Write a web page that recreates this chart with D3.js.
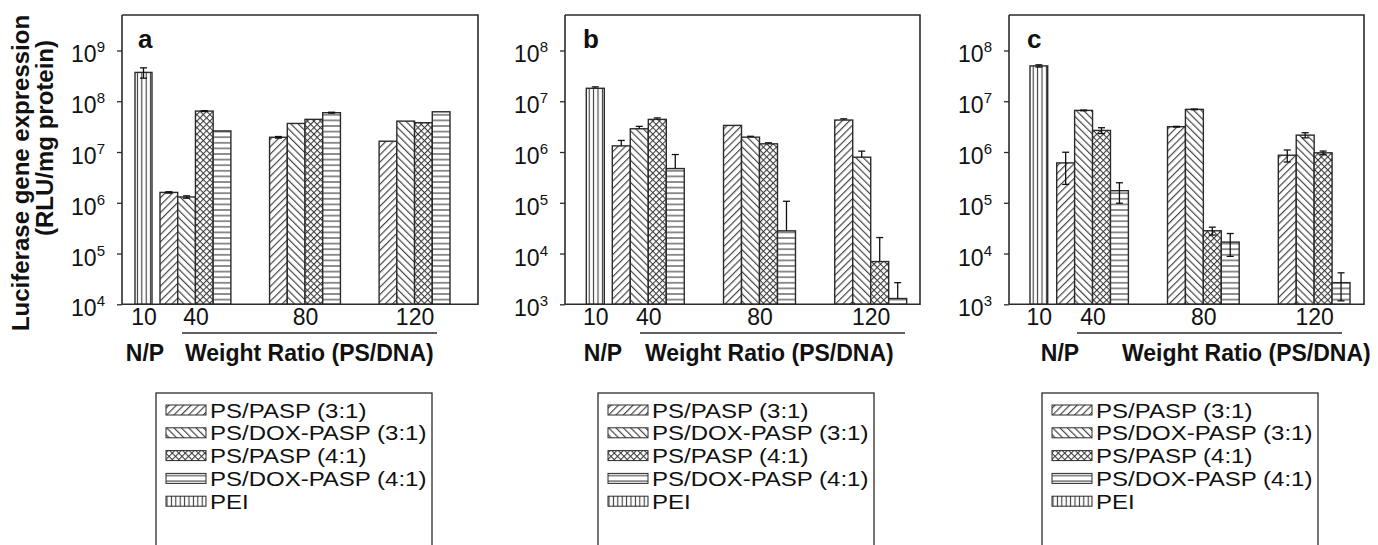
<!DOCTYPE html>
<html>
<head>
<meta charset="utf-8">
<script src="https://cdn.jsdelivr.net/npm/d3@7"></script>
<style>
  body { margin: 0; background: #fff; }
  svg { display: block; }
  text { font-family: "Liberation Sans", Arial, sans-serif; fill: #111; }
</style>
</head>
<body>
<svg id="chart" width="1378" height="545"></svg>
<script>
"use strict";

/* Luciferase expression, three panels (a, b, c) */

// Categories
var series_names = ["PS/PASP (3:1)", "PS/DOX-PASP (3:1)", "PS/PASP (4:1)", "PS/DOX-PASP (4:1)"];
var ratio_labels = ["40", "80", "120"];
var np_label = "10";
var legend_labels = ["PS/PASP (3:1)", "PS/DOX-PASP (3:1)", "PS/PASP (4:1)", "PS/DOX-PASP (4:1)", "PEI"];

// Tick exponents
var a_tick_exps = [4, 5, 6, 7, 8, 9];
var bc_tick_exps = [3, 4, 5, 6, 7, 8];

// Panel a: one array per weight ratio, columns follow series_names
var a_pei = 3.7e8, a_pei_err = 0.85e8;
var a_ratio40 = [1.6e6, 1.3e6, 6.4e7, 2.6e7];
var a_ratio80 = [1.95e7, 3.65e7, 4.4e7, 5.95e7];
var a_ratio120 = [1.63e7, 4.06e7, 3.78e7, 6.2e7];
var a_err40 = [0.05e6, 0.07e6, 0.12e7, 0];
var a_err80 = [0.07e7, 0, 0, 0.12e7];
var a_err120 = [0, 0, 0, 0];

// Panel b
var b_pei = 1.8e7, b_pei_err = 0.12e7;
var b_ratio40 = [1.32e6, 2.87e6, 4.39e6, 4.72e5];
var b_ratio80 = [3.34e6, 1.96e6, 1.45e6, 2.8e4];
var b_ratio120 = [4.26e6, 7.9e5, 6.95e3, 1.3e3];
var b_err40 = [0.37e6, 0.33e6, 0.3e6, 4.2e5];
var b_err80 = [0, 0.08e6, 0.07e6, 7.9e4];
var b_err120 = [0.24e6, 2.5e5, 1.37e4, 1.37e3];

// Panel c
var c_pei = 4.97e7, c_pei_err = 0.25e7;
var c_ratio40 = [6.1e5, 6.6e6, 2.66e6, 1.73e5];
var c_ratio80 = [3.15e6, 6.92e6, 2.81e4, 1.68e4];
var c_ratio120 = [8.65e5, 2.15e6, 9.64e5, 2.67e3];
var c_err40 = [3.8e5, 0.1e6, 0.35e6, 0.75e5];
var c_err80 = [0.05e6, 0.1e6, 0.5e4, 0.8e4];
var c_err120 = [2.3e5, 0.25e6, 0.8e5, 1.5e3];

// Fill pattern id for each series, PEI last
var pattern_ids = ["p-fwd", "p-back", "p-cross", "p-horiz", "p-vert"];

// Layout of each panel (pixels, relative to the panel's left edge)
var panels = [
    { letter: "a", left: 122, right: 478, y_min: 1e4, y_max: 5e9, ticks: a_tick_exps,
      pei: a_pei, pei_err: a_pei_err, groups: [a_ratio40, a_ratio80, a_ratio120],
      errs: [a_err40, a_err80, a_err120], both_ways: true,
      g0: 38, g1: 328, pei_w: 17, pei_gap: 8, line: [60, 315], np_x: 23, wr_x: 63, legend_x: 156 },
    { letter: "b", left: 565, right: 920, y_min: 1e3, y_max: 5e8, ticks: bc_tick_exps,
      pei: b_pei, pei_err: b_pei_err, groups: [b_ratio40, b_ratio80, b_ratio120],
      errs: [b_err40, b_err80, b_err120], both_ways: false,
      g0: 47.3, g1: 341.7, pei_w: 18, pei_gap: 8, line: [75, 340], np_x: 38, wr_x: 80, legend_x: 598 },
    { letter: "c", left: 1009, right: 1364, y_min: 1e3, y_max: 5e8, ticks: bc_tick_exps,
      pei: c_pei, pei_err: c_pei_err, groups: [c_ratio40, c_ratio80, c_ratio120],
      errs: [c_err40, c_err80, c_err120], both_ways: true,
      g0: 47.7, g1: 341, pei_w: 17.7, pei_gap: 9, line: [68, 333], np_x: 51, wr_x: 113, legend_x: 1042 }
];

var TOP = 15, BOTTOM = 304.3;
var INK = "#2b2b2b", HATCH = "#383838";

var svg = d3.select("#chart");
var defs = svg.append("defs");

// Hatch patterns
function make_pattern(id, w, h, rotate) {
    var p = defs.append("pattern")
        .attr("id", id)
        .attr("patternUnits", "userSpaceOnUse")
        .attr("width", w)
        .attr("height", h);
    if (rotate) p.attr("patternTransform", "rotate(" + rotate + ")");
    p.append("rect").attr("width", w).attr("height", h).attr("fill", "#fff");
    return p;
}
function hatch_line(p, x1, y1, x2, y2) {
    p.append("line")
        .attr("x1", x1).attr("y1", y1).attr("x2", x2).attr("y2", y2)
        .attr("stroke", HATCH).attr("stroke-width", 1.1);
}
var pf = make_pattern("p-fwd", 5.2, 10, 45);
hatch_line(pf, 0.6, 0, 0.6, 10);
var pb = make_pattern("p-back", 5.2, 10, -45);
hatch_line(pb, 0.6, 0, 0.6, 10);
var pc = make_pattern("p-cross", 4.6, 4.6, 45);
hatch_line(pc, 0.5, 0, 0.5, 4.6);
hatch_line(pc, 0, 0.5, 4.6, 0.5);
var ph = make_pattern("p-horiz", 10, 5.6, 0);
hatch_line(ph, 0, 2.8, 10, 2.8);
var pv = make_pattern("p-vert", 4.4, 10, 0);
hatch_line(pv, 2.2, 0, 2.2, 10);

// One panel
function draw_panel(cfg) {
    var g = svg.append("g").attr("transform", "translate(" + cfg.left + ",0)");
    var width = cfg.right - cfg.left;

    var y = d3.scaleLog().domain([cfg.y_min, cfg.y_max]).range([BOTTOM, TOP]);

    var x_group = d3.scaleBand()
        .domain(ratio_labels)
        .range([cfg.g0, cfg.g1])
        .paddingInner(0.353)
        .paddingOuter(0);
    var x_series = d3.scaleBand()
        .domain(series_names)
        .range([0, x_group.bandwidth()])
        .padding(0);
    var pei_x = cfg.g0 - cfg.pei_gap - cfg.pei_w;

    // Bars
    var bars = [];
    ratio_labels.forEach(function(r, gi) {
        series_names.forEach(function(s, si) {
            bars.push({
                x: x_group(r) + x_series(s), w: x_series.bandwidth(),
                v: cfg.groups[gi][si], e: cfg.errs[gi][si], pat: pattern_ids[si]
            });
        });
    });
    bars.unshift({ x: pei_x, w: cfg.pei_w, v: cfg.pei, e: cfg.pei_err, pat: pattern_ids[4] });

    g.selectAll("rect.bar").data(bars).enter().append("rect")
        .attr("class", "bar")
        .attr("x", function(d) { return d.x; })
        .attr("y", function(d) { return y(d.v); })
        .attr("width", function(d) { return d.w; })
        .attr("height", function(d) { return BOTTOM - y(d.v); })
        .attr("fill", function(d) { return "url(#" + d.pat + ")"; })
        .attr("stroke", INK)
        .attr("stroke-width", 1.4);

    // Error bars
    var eb = g.selectAll("g.err").data(bars.filter(function(d) { return d.e > 0; }))
        .enter().append("g").attr("class", "err");
    eb.each(function(d) {
        var cx = d.x + d.w / 2;
        var hi = y(d.v + d.e);
        var lo = cfg.both_ways ? y(Math.max(d.v - d.e, cfg.y_min * 1.05)) : y(d.v);
        var e = d3.select(this);
        e.append("line").attr("x1", cx).attr("x2", cx).attr("y1", hi).attr("y2", lo);
        e.append("line").attr("x1", cx - 3.5).attr("x2", cx + 3.5).attr("y1", hi).attr("y2", hi);
        if (cfg.both_ways) {
            e.append("line").attr("x1", cx - 3.5).attr("x2", cx + 3.5).attr("y1", lo).attr("y2", lo);
        }
    });
    eb.selectAll("line").attr("stroke", "#111").attr("stroke-width", 1.3);

    // Frame: top, right, bottom
    g.append("path")
        .attr("d", "M0," + TOP + "H" + width + "V" + BOTTOM + "H0")
        .attr("fill", "none").attr("stroke", INK).attr("stroke-width", 1.6);

    // Y axis
    var tick_vals = cfg.ticks.map(function(e) { return Math.pow(10, e); });
    var ya = g.append("g").call(
        d3.axisLeft(y).tickValues(tick_vals).tickSize(5).tickSizeOuter(0).tickFormat(""));
    ya.select(".domain").attr("stroke", INK).attr("stroke-width", 1.6)
        .attr("d", "M0," + TOP + "V" + BOTTOM);
    ya.selectAll(".tick line").attr("stroke", INK).attr("stroke-width", 1.3);

    var yl = g.selectAll("text.ylab").data(cfg.ticks).enter().append("text")
        .attr("class", "ylab")
        .attr("x", -17)
        .attr("y", function(e) { return y(Math.pow(10, e)) + 12; })
        .attr("text-anchor", "end")
        .attr("font-size", 23)
        .text("10");
    yl.append("tspan")
        .attr("dy", -10)
        .attr("font-size", 15)
        .text(function(e) { return e; });

    // X labels (no tick marks)
    var x_lab = d3.scaleOrdinal()
        .domain([np_label].concat(ratio_labels))
        .range([pei_x + cfg.pei_w / 2].concat(ratio_labels.map(function(r) {
            return x_group(r) + x_group.bandwidth() / 2;
        })));
    var xa = g.append("g").attr("transform", "translate(0," + BOTTOM + ")")
        .call(d3.axisBottom(x_lab).tickSize(0).tickPadding(4.5));
    xa.select(".domain").remove();
    xa.attr("font-size", null).attr("font-family", null);
    xa.selectAll("text").attr("font-size", 23).attr("fill", "#111");

    // Weight-ratio underline and group captions
    g.append("line")
        .attr("x1", cfg.line[0]).attr("x2", cfg.line[1])
        .attr("y1", 333).attr("y2", 333)
        .attr("stroke", INK).attr("stroke-width", 1.5);
    g.append("text").attr("x", cfg.np_x).attr("y", 361)
        .attr("text-anchor", "middle").attr("font-weight", "bold").attr("font-size", 23)
        .text("N/P");
    g.append("text").attr("x", cfg.wr_x).attr("y", 361)
        .attr("font-weight", "bold").attr("font-size", 23)
        .text("Weight Ratio (PS/DNA)");

    // Panel letter
    g.append("text").attr("x", cfg.letter === "a" ? 16 : 18).attr("y", 48)
        .attr("font-weight", "bold").attr("font-size", 26)
        .text(cfg.letter);

    // Legend box (runs past the bottom edge)
    var lg = svg.append("g").attr("transform", "translate(" + cfg.legend_x + ",393)");
    lg.append("rect").attr("x", 0).attr("y", 0).attr("width", 276).attr("height", 170)
        .attr("fill", "#fff").attr("stroke", INK).attr("stroke-width", 1.3);
    var row = lg.selectAll("g.row").data(legend_labels).enter().append("g")
        .attr("class", "row")
        .attr("transform", function(d, i) { return "translate(0," + (17 + i * 22.8) + ")"; });
    row.append("rect")
        .attr("x", 10).attr("y", -5).attr("width", 40).attr("height", 10)
        .attr("fill", function(d, i) { return "url(#" + pattern_ids[i] + ")"; })
        .attr("stroke", INK).attr("stroke-width", 1);
    // legend lettering is wide in the source, so stretch it sideways
    row.append("text")
        .attr("transform", "translate(54,7.5) scale(1.2,1)")
        .attr("font-size", 20)
        .text(function(d) { return d; });
}

panels.forEach(draw_panel);

// Shared y title
svg.append("text")
    .attr("transform", "translate(29,173) rotate(-90)")
    .attr("text-anchor", "middle").attr("font-weight", "bold").attr("font-size", 24)
    .text("Luciferase gene expression");
svg.append("text")
    .attr("transform", "translate(53,138) rotate(-90)")
    .attr("text-anchor", "middle").attr("font-weight", "bold").attr("font-size", 24)
    .text("(RLU/mg protein)");
</script>
</body>
</html>
